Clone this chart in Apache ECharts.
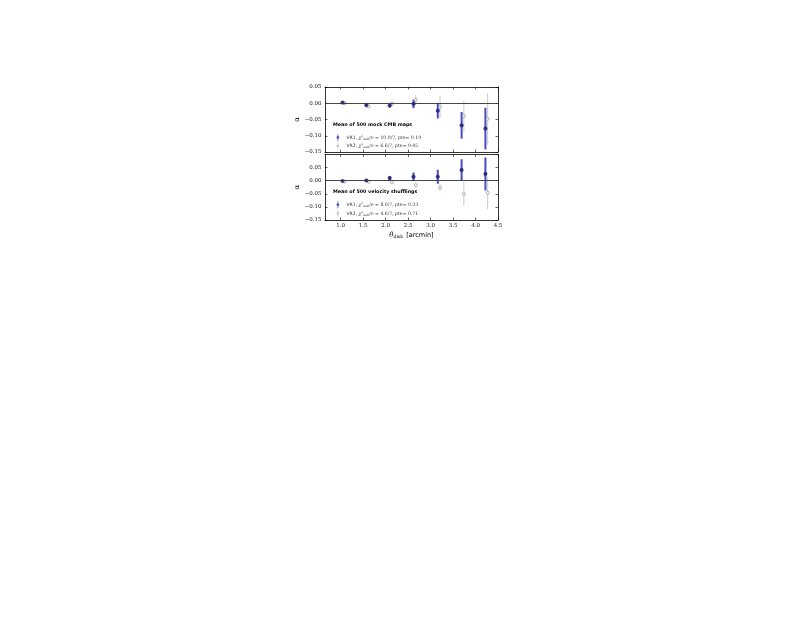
<!DOCTYPE html>
<html><head><meta charset="utf-8">
<script src="https://cdn.jsdelivr.net/npm/echarts@6/dist/echarts.min.js"></script>
<style>html,body{margin:0;padding:0;background:#fff}#c{width:800px;height:618px}</style>
</head><body><div id="c"></div>
<script>
// ---- data ----
var thetaVR1 = [1.04, 1.57, 2.09, 2.62, 3.16, 3.69, 4.22];
var thetaVR2 = [1.09, 1.62, 2.14, 2.67, 3.21, 3.74, 4.27];
// top panel: mean of 500 mock CMB maps
var cmbVR1 = [0.002, -0.006, -0.007, -0.002, -0.023, -0.068, -0.078];
var cmbVR1Err = [0.003, 0.004, 0.006, 0.013, 0.024, 0.041, 0.064];
var cmbVR2 = [0.000, -0.010, -0.002, 0.011, -0.011, -0.040, -0.048];
var cmbVR2Err = [0.004, 0.005, 0.008, 0.015, 0.035, 0.048, 0.080];
// bottom panel: mean of 500 velocity shufflings
var velVR1 = [-0.001, 0.001, 0.010, 0.015, 0.015, 0.041, 0.026];
var velVR1Err = [0.003, 0.004, 0.008, 0.016, 0.027, 0.041, 0.063];
var velVR2 = [-0.003, -0.004, -0.006, -0.017, -0.026, -0.050, -0.046];
var velVR2Err = [0.003, 0.004, 0.006, 0.008, 0.012, 0.045, 0.062];
var xTicks = [1.0, 1.5, 2.0, 2.5, 3.0, 3.5, 4.0, 4.5];
var topTitle = 'Mean of 500 mock CMB maps';
var botTitle = 'Mean of 500 velocity shufflings';
var legendText = {
  'VR1 cmb': ['VR1', '10.0/7', '0.19'],
  'VR2 cmb': ['VR2', '6.6/7', '0.45'],
  'VR1 vel': ['VR1', '8.0/7', '0.33'],
  'VR2 vel': ['VR2', '4.6/7', '0.71']
};

// ---- styles ----
var BLUE_BAR = '#4a4ac4', BLUE_PT = '#1c1c78', GREY_BAR = '#c4c4c4', GREY_PT = '#8a8a8a';
var tickFont = {fontFamily: 'DejaVu Serif', fontSize: 5.5, color: '#222'};

function zip(xs, ys, es) { return xs.map(function (x, i) { return [x, ys[i], es ? es[i] : 0]; }); }
function fmtY(v) { var s = v.toFixed(2); return s.replace('-', '\u2212'); }

function errSeries(name, xs, ys, es, gi, color, w) {
  return {
    type: 'custom', name: name, xAxisIndex: gi * 2, yAxisIndex: gi * 2, clip: true, silent: true, z: 2,
    data: zip(xs, ys, es),
    itemStyle: {color: color},
    renderItem: function (params, api) {
      var x = api.value(0), y = api.value(1), e = api.value(2);
      var p1 = api.coord([x, y - e]), p2 = api.coord([x, y + e]);
      return {type: 'line', shape: {x1: p1[0], y1: p1[1], x2: p2[0], y2: p2[1]},
        style: {stroke: color, lineWidth: w}};
    }
  };
}
function ptSeries(name, xs, ys, gi, filled) {
  return {
    type: 'scatter', name: name, xAxisIndex: gi * 2, yAxisIndex: gi * 2, silent: true, z: 3,
    data: zip(xs, ys).map(function (d) { return [d[0], d[1]]; }),
    symbol: 'circle', symbolSize: filled ? 3.6 : 3.0,
    itemStyle: filled ? {color: BLUE_PT, borderColor: BLUE_PT, borderWidth: 0.5}
                      : {color: '#ffffff', borderColor: GREY_PT, borderWidth: 0.8}
  };
}

var gridL = 325, gridW = 173;
var grids = [
  {left: gridL, top: 87, width: gridW, height: 65},
  {left: gridL, top: 154.5, width: gridW, height: 65.5}
];
var axLine = {show: true, onZero: false, lineStyle: {color: '#000', width: 0.8}};
var tickIn = {show: true, inside: true, length: 2.5, lineStyle: {color: '#000', width: 0.6}};

function xAx(gi, pos, labels, name) {
  var a = {
    type: 'value', gridIndex: gi, position: pos, min: 0.65, max: 4.5,
    axisLine: axLine, splitLine: {show: false},
    axisTick: Object.assign({customValues: xTicks}, tickIn),
    axisLabel: labels ? Object.assign({customValues: xTicks, margin: 2.5,
      formatter: function (v) { return v.toFixed(1); }}, tickFont) : {show: false}
  };
  if (name) {
    a.name = '{t|\u03b8}{s|disk} {a|[arcmin]}';
    a.nameLocation = 'middle';
    a.nameGap = 8;
    a.nameTextStyle = {rich: {
      t: {fontFamily: 'DejaVu Serif', fontStyle: 'italic', fontSize: 7, color: '#000'},
      s: {fontFamily: 'DejaVu Serif', fontSize: 4.5, color: '#000', padding: [3, 0, 0, 0]},
      a: {fontFamily: 'DejaVu Sans', fontSize: 6.5, color: '#000'}
    }};
  }
  return a;
}
function yAx(gi, pos, labels, mn, mx) {
  var a = {
    type: 'value', gridIndex: gi, position: pos, min: mn, max: mx, interval: 0.05,
    axisLine: axLine, splitLine: {show: false}, axisTick: tickIn,
    axisLabel: labels ? Object.assign({margin: 3.5, formatter: fmtY, showMaxLabel: gi === 0}, tickFont) : {show: false}
  };
  if (labels) {
    a.name = '\u03b1';
    a.nameLocation = 'middle';
    a.nameGap = 18;
    a.nameRotate = 90;
    a.nameTextStyle = {fontFamily: 'DejaVu Serif', fontSize: 7, color: '#000'};
  }
  return a;
}

var zeroLine = {silent: true, symbol: 'none', label: {show: false},
  lineStyle: {color: '#333', width: 0.9, type: 'solid'}, data: [{yAxis: 0}]};

var s1 = ptSeries('VR1 cmb', thetaVR1, cmbVR1, 0, true);
s1.markLine = zeroLine;
var s3 = ptSeries('VR1 vel', thetaVR1, velVR1, 1, true);
s3.markLine = zeroLine;

var series = [
  errSeries('VR2 cmb', thetaVR2, cmbVR2, cmbVR2Err, 0, GREY_BAR, 0.9),
  errSeries('VR1 cmb', thetaVR1, cmbVR1, cmbVR1Err, 0, BLUE_BAR, 2.0),
  ptSeries('VR2 cmb', thetaVR2, cmbVR2, 0, false),
  s1,
  errSeries('VR2 vel', thetaVR2, velVR2, velVR2Err, 1, GREY_BAR, 0.9),
  errSeries('VR1 vel', thetaVR1, velVR1, velVR1Err, 1, BLUE_BAR, 2.0),
  ptSeries('VR2 vel', thetaVR2, velVR2, 1, false),
  s3
];

var ICON_BAR = 'path://M4,0 L6,0 L6,20 L4,20 Z M5,6 A4,4 0 1 1 4.99,6 Z';
function legendItem(name, blue) {
  return {name: name, icon: ICON_BAR,
    itemStyle: {color: blue ? BLUE_BAR : GREY_BAR, borderWidth: 0}};
}
var legendRich = {
  n: {fontFamily: 'DejaVu Sans', fontSize: 4.6, color: '#333'},
  m: {fontFamily: 'DejaVu Serif', fontSize: 4.6, color: '#333'},
  mi: {fontFamily: 'DejaVu Serif', fontStyle: 'italic', fontSize: 4.6, color: '#333'},
  sup: {fontFamily: 'DejaVu Serif', fontSize: 3.1, color: '#333', padding: [0, 0, 3, 0]},
  sub: {fontFamily: 'DejaVu Serif', fontSize: 3.1, color: '#333', padding: [3, 0, 0, 0]}
};
function legendFmt(name) {
  var t = legendText[name];
  return '{n|' + t[0] + ', }{mi|\u03c7}{sup|2}{sub|null}{m|/}{mi|\u03bd}{m| = ' + t[1] + ', }{n|pte}{m|= ' + t[2] + '}';
}
function legend(top, items) {
  return {
    orient: 'vertical', left: 331.5, top: top, itemWidth: 5, itemHeight: 7, itemGap: 1.6,
    selectedMode: false, data: items, formatter: legendFmt,
    textStyle: {rich: legendRich, padding: [0, 0, 0, 1]}
  };
}

var titleStyle = {fontFamily: 'DejaVu Sans', fontWeight: 'bold', fontSize: 4.8, color: '#000'};
var option = {
  animation: false,
  backgroundColor: '#ffffff',
  title: [
    {text: topTitle, left: 333, top: 122, padding: 0, textStyle: titleStyle},
    {text: botTitle, left: 333, top: 189, padding: 0, textStyle: titleStyle}
  ],
  legend: [
    legend(129, [legendItem('VR1 cmb', true), legendItem('VR2 cmb', false)]),
    legend(196.2, [legendItem('VR1 vel', true), legendItem('VR2 vel', false)])
  ],
  grid: grids,
  xAxis: [xAx(0, 'bottom', false), xAx(0, 'top', false), xAx(1, 'bottom', true, true), xAx(1, 'top', false)],
  yAxis: [yAx(0, 'left', true, -0.15, 0.05), yAx(0, 'right', false, -0.15, 0.05),
          yAx(1, 'left', true, -0.15, 0.10), yAx(1, 'right', false, -0.15, 0.10)],
  series: series
};
var chart = echarts.init(document.getElementById('c'), null, {renderer: 'canvas'});
chart.setOption(option);
</script></body></html>
